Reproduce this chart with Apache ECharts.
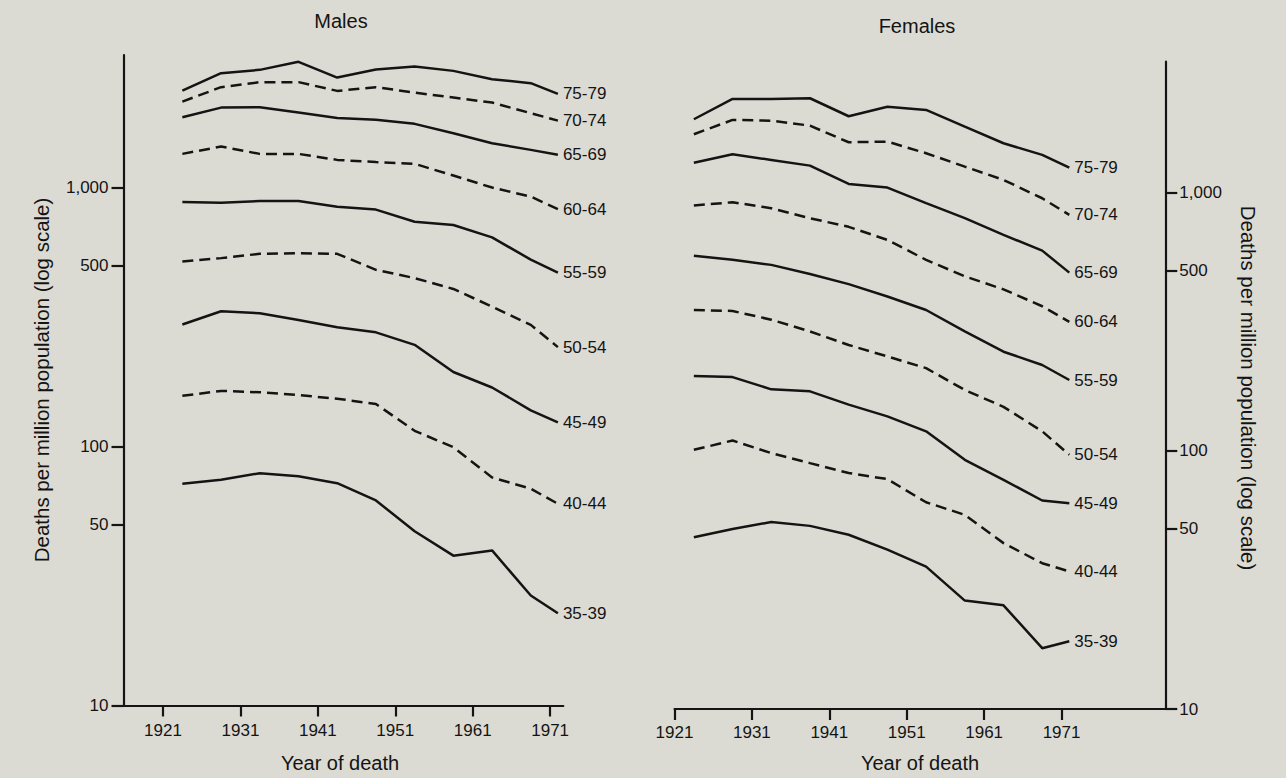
<!DOCTYPE html>
<html>
<head>
<meta charset="utf-8">
<script src="https://cdn.jsdelivr.net/npm/echarts@6/dist/echarts.min.js"></script>
<style>
html,body{margin:0;padding:0;background:#dcdbd3;}
#chart{width:1286px;height:778px;}
</style>
</head>
<body>
<div id="chart"></div>
<script>
// ---- data ----
const years = [1923.5, 1928.5, 1933.5, 1938.5, 1943.5, 1948.5, 1953.5, 1958.5, 1963.5, 1968.5, 1972];
const ageGroups = ['35-39', '40-44', '45-49', '50-54', '55-59', '60-64', '65-69', '70-74', '75-79'];
const yTickValues = [10, 50, 100, 500, 1000];
const xTickValues = [1921, 1931, 1941, 1951, 1961, 1971];

// Males, deaths per million population
const males_35_39 = [71.8, 74.4, 78.9, 76.8, 72.2, 61.9, 47.1, 37.9, 39.7, 26.6, 22.7];
const males_40_44 = [157, 164, 162, 158, 153, 146, 115, 99.4, 76, 68.7, 60.1];
const males_45_49 = [296, 333, 327, 308, 289, 276, 247, 194, 169, 138, 124];
const males_50_54 = [518, 534, 555, 558, 555, 481, 447, 406, 347, 295, 242];
const males_55_59 = [879, 874, 887, 887, 843, 822, 738, 717, 642, 527, 469];
const males_60_64 = [1349, 1440, 1349, 1349, 1279, 1254, 1235, 1113, 1000, 923, 825];
const males_65_69 = [1870, 2036, 2043, 1948, 1858, 1826, 1762, 1622, 1484, 1398, 1338];
const males_70_74 = [2148, 2442, 2553, 2553, 2362, 2442, 2327, 2226, 2129, 1938, 1814];
const males_75_79 = [2368, 2765, 2848, 3058, 2659, 2855, 2932, 2822, 2621, 2530, 2300];

// Females, deaths per million population
const females_35_39 = [46.3, 49.8, 53, 51.2, 47.3, 41.4, 35.6, 26.3, 25.2, 17.2, 18.3];
const females_40_44 = [100.9, 109.6, 98, 89.6, 82, 77.7, 63.2, 56.5, 43.9, 36.7, 34.1];
const females_45_49 = [195, 193, 173, 170, 151, 136, 119, 92.3, 77.2, 64.2, 62.7];
const females_50_54 = [351, 348, 322, 290, 257, 232, 209, 172, 148, 119, 96.5];
const females_55_59 = [570, 549, 525, 484, 442, 396, 351, 290, 242, 215, 188];
const females_60_64 = [891, 918, 870, 796, 737, 656, 549, 474, 422, 363, 316];
const females_65_69 = [1306, 1408, 1338, 1272, 1081, 1046, 910, 796, 686, 596, 490];
const females_70_74 = [1683, 1912, 1900, 1817, 1567, 1576, 1421, 1261, 1120, 951, 820];
const females_75_79 = [1924, 2305, 2305, 2320, 1976, 2152, 2090, 1801, 1553, 1400, 1250];

const maleSeries = [males_35_39, males_40_44, males_45_49, males_50_54, males_55_59, males_60_64, males_65_69, males_70_74, males_75_79];
const femaleSeries = [females_35_39, females_40_44, females_45_49, females_50_54, females_55_59, females_60_64, females_65_69, females_70_74, females_75_79];

// ---- styling ----
const INK = '#141414';
const FONT = '"Liberation Sans", Arial, Helvetica, sans-serif';

function makeSeries(values, idx, panel) {
  return {
    type: 'line',
    name: ageGroups[idx],
    xAxisIndex: panel,
    yAxisIndex: panel,
    data: years.map((y, i) => [y, values[i]]),
    symbol: 'none',
    silent: true,
    lineStyle: { color: INK, width: 2.5, type: idx % 2 === 1 ? [11, 6] : 'solid' },
    endLabel: {
      show: true,
      formatter: ageGroups[idx],
      distance: 5,
      color: INK,
      fontSize: 17,
      fontFamily: FONT
    }
  };
}

function yAxisCfg(panel, max, position, margin) {
  return {
    type: 'log', logBase: 10, gridIndex: panel, position: position,
    min: 10, max: max,
    axisLine: { show: true, onZero: false, lineStyle: { color: INK, width: 2.2 } },
    axisTick: { show: true, length: 12, customValues: yTickValues, lineStyle: { color: INK, width: 2.2 } },
    axisLabel: {
      customValues: yTickValues, margin: margin, color: INK, fontSize: 17, fontFamily: FONT,
      formatter: v => Number(v).toLocaleString('en-US')
    },
    splitLine: { show: false },
    minorTick: { show: false }
  };
}

function xAxisCfg(panel, min, max, margin) {
  return {
    type: 'value', gridIndex: panel, min: min, max: max,
    axisLine: { show: true, onZero: false, lineStyle: { color: INK, width: 2.2 } },
    axisTick: { show: true, length: 11, customValues: xTickValues, lineStyle: { color: INK, width: 2.2 } },
    axisLabel: {
      customValues: xTickValues, margin: margin, color: INK, fontSize: 17, fontFamily: FONT,
      formatter: v => String(Math.round(v))
    },
    splitLine: { show: false }
  };
}

const series = [];
maleSeries.forEach((v, i) => series.push(makeSeries(v, i, 0)));
femaleSeries.forEach((v, i) => series.push(makeSeries(v, i, 1)));

const txt = (text, x, y, rot, size) => ({
  type: 'text', x: x, y: y, rotation: rot || 0, silent: true,
  style: { text: text, fill: INK, font: (size || 20) + 'px ' + FONT, align: 'center', verticalAlign: 'middle' }
});

const option = {
  backgroundColor: '#dcdbd3',
  animation: false,
  grid: [
    { left: 123.5, top: 55, width: 439.8, height: 650.5 },
    { left: 674.5, top: 61.7, width: 490.8, height: 647.3 }
  ],
  xAxis: [
    xAxisCfg(0, 1915.9, 1972.7, 16),
    xAxisCfg(1, 1921, 1984.4, 15)
  ],
  yAxis: [
    yAxisCfg(0, 3250, 'left', 15),
    yAxisCfg(1, 3214, 'right', 14)
  ],
  series: series,
  graphic: [
    txt('Males', 341, 21),
    txt('Females', 917, 26),
    txt('Year of death', 340, 763),
    txt('Year of death', 920, 763),
    txt('Deaths per million population (log scale)', 41, 380, Math.PI / 2, 20.5),
    txt('Deaths per million population (log scale)', 1248, 388, -Math.PI / 2, 20.5)
  ]
};

const chart = echarts.init(document.getElementById('chart'), null, { renderer: 'svg' });
chart.setOption(option);
</script>
</body>
</html>
